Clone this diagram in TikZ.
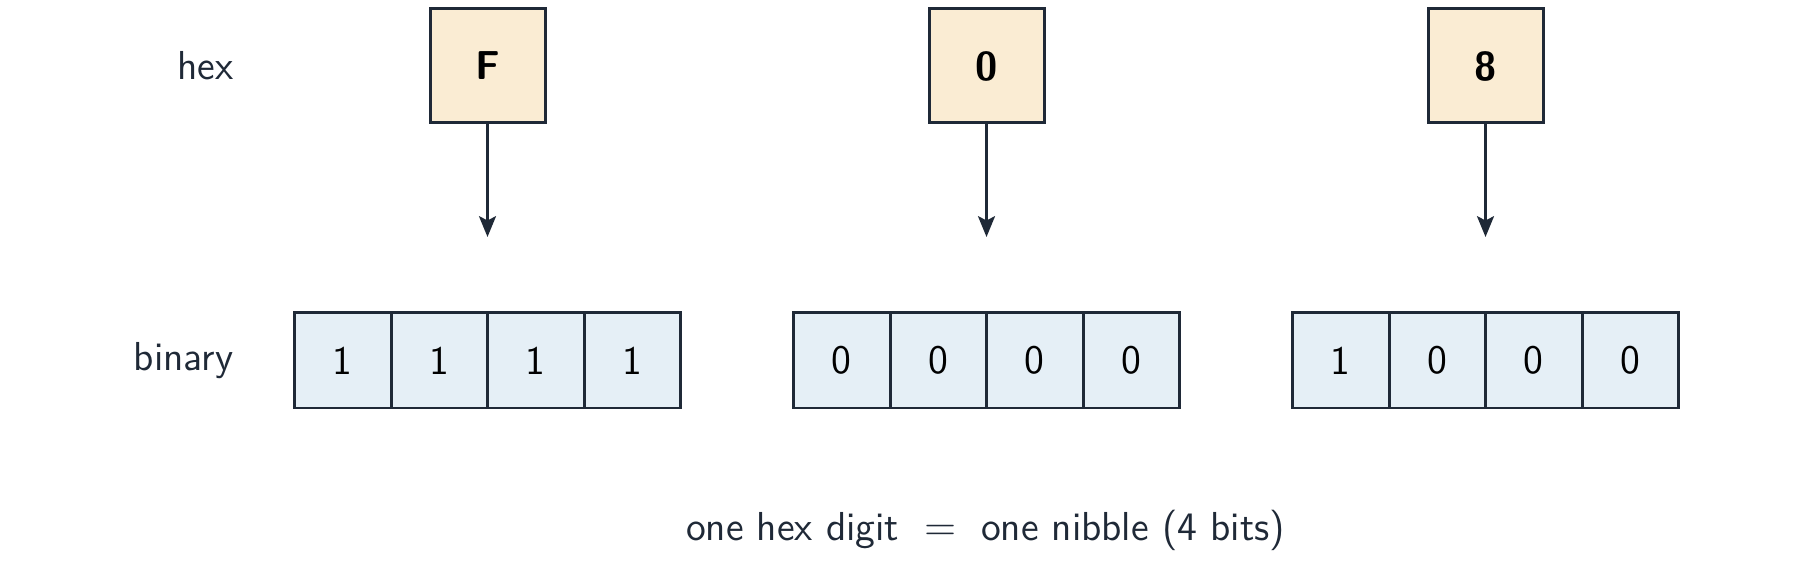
\documentclass[tikz,border=0pt]{standalone}
\usetikzlibrary{arrows.meta, positioning}
\definecolor{nbInk}{HTML}{1F2937}
\definecolor{nbHex}{HTML}{FAECD3}
\definecolor{nbBit}{HTML}{E5EFF6}
\newcommand{\nbsize}{\fontsize{11.5}{14}\selectfont}
\tikzset{
  hexbox/.style={draw=nbInk, line width=0.85pt, fill=nbHex, minimum width=11.5mm, minimum height=11.4mm, inner sep=0pt, font=\sffamily\bfseries\nbsize},
  bitbox/.style={draw=nbInk, line width=0.85pt, fill=nbBit, minimum width=9.65mm, minimum height=9.5mm, inner sep=0pt, font=\sffamily\nbsize},
  rowlabel/.style={anchor=east, inner sep=0pt, font=\sffamily\nbsize, text=nbInk},
}

\begin{document}
\begin{tikzpicture}[x=1mm, y=1mm]
  \useasboundingbox (0,0) rectangle (180,-57.3);
  \node[rowlabel] (lhex) at (23.4, -6.6) {hex};
  \node[rowlabel] (lbin) at (23.4, -36.05) {binary};
  \foreach \h/\bits [count=\i] in {F/{1,1,1,1}, 0/{0,0,0,0}, 8/{1,0,0,0}} {
    \node[hexbox] (hex\i) at (48.75+\i*49.9-49.9, -6.6) {\h};
    \coordinate (tip\i) at (48.75+\i*49.9-49.9, -23.7);
    \draw[nbInk, line width=0.85pt, -{Stealth[length=5.9pt, width=4.8pt, inset=1.2pt]}] (hex\i) -- (tip\i);
    \foreach \b [count=\j] in \bits
      \node[bitbox] (bit\i\j) at (48.75+\i*49.9-49.9+\j*9.65-24.125, -36.05) {\b};
  }
  \node[font=\sffamily\nbsize, text=nbInk, inner sep=0pt] (rule) at (98.55, -53.0) {one hex digit $\;=\;$ one nibble (4 bits)};
\end{tikzpicture}
\end{document}
